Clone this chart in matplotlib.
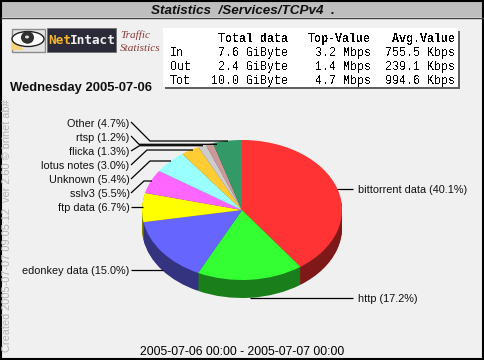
import matplotlib
matplotlib.use("Agg")
import matplotlib.pyplot as plt
from matplotlib.patches import Rectangle, Ellipse, Polygon

# ---- data ----
names = ["bittorrent data", "http", "edonkey data", "ftp data", "sslv3",
         "Unknown", "lotus notes", "flicka", "rtsp", "Other"]
shares = [40.1, 17.2, 15.0, 6.7, 5.5, 5.4, 3.0, 1.3, 1.2, 4.7]
top_colors = ["#FF3333", "#33FF33", "#6666FF", "#FFFF00", "#FF66FF",
              "#99FFFF", "#FFCC33", "#CCCCCC", "#CC9999", "#339966"]
side_colors = ["#7F1919", "#1A7F1A", "#33337F", "#7F7F00", "#7F337F",
               "#4C7F7F", "#7F6619", "#666666", "#664C4C", "#194C33"]
table_header = ["Total data", "Top-Value", "Avg.Value"]
table_rows = [["In", "7.6 GiByte", "3.2 Mbps", "755.5 Kbps"],
              ["Out", "2.4 GiByte", "1.4 Mbps", "239.1 Kbps"],
              ["Tot", "10.0 GiByte", "4.7 Mbps", "994.6 Kbps"]]
title = "Statistics  /Services/TCPv4  ."
day = "Wednesday 2005-07-06"
span = "2005-07-06 00:00 - 2005-07-07 00:00"
credit = "Created 2005-07-07 09:05:12  ver 2.60 © brinet ab#"

W, H = 484, 360
BG = "#F0F0F0"
CX, CY, RX, RY, DEPTH = 242, 210, 100, 70, 18

fig = plt.figure(figsize=(W / 100, H / 100), dpi=100, facecolor=BG)

# pie axes: unit circle maps to the elliptical top of the 3D pie
pie_ax = fig.add_axes([0, 0, 1, 1], zorder=1)
for d in range(DEPTH, 0, -1):
    pie_ax.pie(shares, colors=side_colors, startangle=90, counterclock=False,
               center=(0, -d / RY), radius=1, wedgeprops=dict(linewidth=0))
pie_ax.pie(shares, colors=top_colors, startangle=90, counterclock=False,
           center=(0, 0), radius=1, wedgeprops=dict(linewidth=0))
pie_ax.set_aspect("auto")
pie_ax.set_xlim(-CX / RX, (W - CX) / RX)
pie_ax.set_ylim(-(H - CY) / RY, CY / RY)
pie_ax.axis("off")

# overlay axes in pixel coordinates
ax = fig.add_axes([0, 0, 1, 1], zorder=2)
ax.set_xlim(0, W)
ax.set_ylim(H, 0)
ax.axis("off")
ax.patch.set_alpha(0)

# frame and title bar
ax.add_patch(Rectangle((1, 2), W - 2, 15, fc="#BEBEBE", ec="none"))
ax.plot([1, W - 1], [17.5, 17.5], color="#404040", lw=1)
ax.add_patch(Rectangle((0.75, 0.75), W - 1.5, H - 1.5, fc="none", ec="black", lw=1.5))
ax.text(243, 10.5, title, ha="center", va="center", family="Liberation Sans",
        weight="bold", style="italic", fontsize=9.7, color="#101010")

# logo
ax.add_patch(Rectangle((11.5, 28.5), 33.5, 23, fc="#E4E4E4", ec="#8C8C8C", lw=1))
ax.add_patch(Polygon([[12, 50], [12, 38], [24, 50]], fc="#F6D27A", ec="none"))
ax.add_patch(Ellipse((28, 39), 32, 15, fc="white", ec="#202020", lw=1.0))
ax.add_patch(Ellipse((27.5, 37.5), 13, 12.5, fc="#303030", ec="none"))
ax.add_patch(Ellipse((27, 37), 4, 3, fc="#E0E0E0", ec="none"))
ax.add_patch(Rectangle((47, 28), 69, 24, fc="#2A2A38", ec="#707070", lw=0.6))
ax.text(48, 40.5, "Net", ha="left", va="center", family="DejaVu Sans Mono",
        weight="bold", fontsize=9.2, color="#F5B52C")
ax.text(115.5, 40.5, "Intact", ha="right", va="center", family="DejaVu Sans Mono",
        weight="bold", fontsize=9.2, color="#F0F0F0")
for txt, y in (("Traffic", 35.5), ("Statistics", 48.5)):
    ax.text(120, y, txt, ha="left", va="center", family="Liberation Serif",
            style="italic", fontsize=8.1, color="#8A3A3A")

# summary table
ax.add_patch(Rectangle((165, 31), 295, 58, fc="#606060", ec="none"))
ax.add_patch(Rectangle((163, 28), 295, 59, fc="white", ec="none"))
right_edges = [288, 371, 455]
for txt, x in zip(table_header, right_edges):
    ax.text(x, 39, txt, ha="right", va="center", family="Liberation Mono",
            weight="bold", fontsize=8.4, color="black", antialiased=False)
for row, y in zip(table_rows, (53, 67, 81)):
    ax.text(170, y, row[0], ha="left", va="center", family="Liberation Mono",
            fontsize=8.4, color="black", antialiased=False)
    for txt, x in zip(row[1:], right_edges):
        ax.text(x, y, txt, ha="right", va="center", family="Liberation Mono",
                fontsize=8.4, color="black", antialiased=False)

ax.text(10, 88, day, ha="left", va="center", family="Liberation Sans",
        weight="bold", fontsize=9.4, color="#101010")
ax.text(242, 352, span, ha="center", va="center", family="Liberation Sans",
        fontsize=8.8, color="black")
ax.text(7.5, 352, credit, rotation=90, ha="center", va="bottom",
        family="Liberation Sans", fontsize=7.9, color="#B4B4B4")

# leader paths and labels, in the order of `names`
leader_paths = [
    [(353, 189), (337, 189)],
    [(353, 298), (250, 298)],
    [(131, 270), (163, 270)],
    [(131, 207), (143, 207)],
    [(131, 193), (144, 181), (152, 181)],
    [(131, 179), (150, 161), (171, 161)],
    [(131, 165), (147, 150), (193, 150)],
    [(131, 151), (139.5, 145.7), (203, 145.7)],
    [(131, 136), (139, 144.3), (217, 144.3)],
    [(131, 122), (150, 141), (228, 141)],
]
label_anchor = [(358, 189), (358, 298), (129.5, 270), (129.5, 207), (129.5, 193),
                (129.5, 179), (129.5, 165), (129.5, 151), (129.5, 137), (129.5, 123)]
for name, share, path, (lx, ly) in zip(names, shares, leader_paths, label_anchor):
    xs, ys = zip(*path)
    ax.plot(xs, ys, color="black", lw=0.9, solid_capstyle="butt")
    ax.text(lx, ly + 0.8, f"{name} ({share}%)", ha="left" if lx > CX else "right",
            va="center", family="Liberation Sans", fontsize=7.8, color="#101010")

fig.savefig("out.png", dpi=100, facecolor=BG)
